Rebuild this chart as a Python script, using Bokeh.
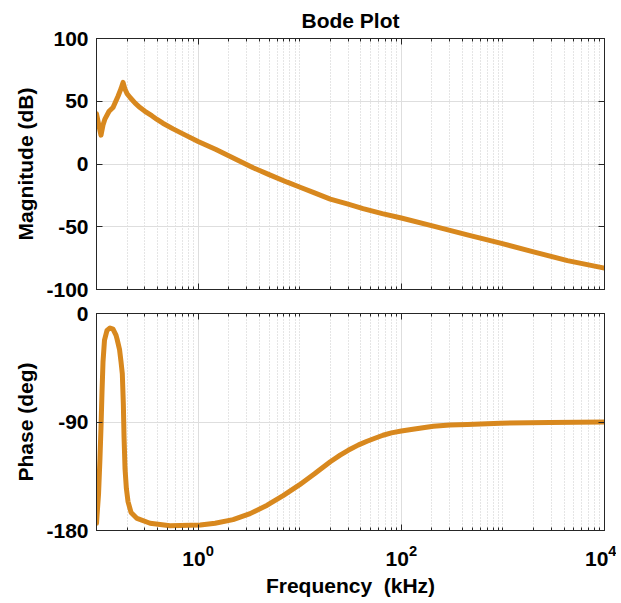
from bokeh.plotting import figure
from bokeh.layouts import column
from bokeh.models import (Range1d, FixedTicker, LogAxis, LinearAxis,
                          CustomJSTickFormatter, LogTickFormatter)
from bokeh.embed import file_html
from bokeh.resources import INLINE

# ---------------- data ----------------
mag_freq_khz = [0.100, 0.1047, 0.1107, 0.1159, 0.1213, 0.1330, 0.1454, 0.1629,
                0.1743, 0.1825, 0.19, 0.20, 0.214, 0.240, 0.268, 0.30, 0.35,
                0.394, 0.45, 0.567, 0.75, 1.0, 1.5, 2.07, 3.48, 5.0, 7.53,
                10.1, 14.0, 20.0, 30.0, 42.0, 65.0, 100.0, 207.0, 447.0,
                945.0, 2000.0, 4320.0, 10000.0]
mag_db = [40, 32, 23, 31, 36, 42, 45, 54,
          60, 65, 60, 56, 53, 48.5, 45, 42, 38.5,
          35.5, 32.5, 28, 23, 18, 11.5, 6, -3, -8.5, -14.5,
          -18.5, -23, -28, -32, -35.5, -39.5, -43, -49.5, -56.5,
          -63, -70, -77, -83]

phase_freq_khz = [0.100, 0.1011, 0.1047, 0.1082, 0.1107, 0.1133, 0.1159, 0.1199,
                  0.1269, 0.1358, 0.1454, 0.1556, 0.1592, 0.1686, 0.1743, 0.1795,
                  0.1837, 0.1866, 0.191, 0.1967, 0.2043, 0.2187, 0.2506, 0.3365,
                  0.53, 1.05, 1.47, 2.21, 3.25, 4.79, 6.87, 10.0, 14.0, 20.0,
                  25.0, 30.0, 38.0, 46.0, 55.0, 66.0, 80.0, 100.0, 130.0,
                  170.0, 207.0, 300.0, 447.0, 945.0, 2900.0, 10000.0]
phase_deg = [-174, -168, -150, -120, -95, -65, -40, -22,
             -14, -12, -13, -18, -21, -30, -40, -50,
             -75, -102, -129, -145, -156, -165, -170, -174,
             -176, -175.5, -174, -171, -166, -159, -151, -142, -133, -123,
             -117.5, -113.5, -109, -106, -103.5, -101, -99, -97.5, -96,
             -94.5, -93.5, -92.5, -92, -91, -90.5, -90]

x_major_ticks = [1, 100, 10000]
mag_ticks = [-100, -50, 0, 50, 100]
phase_ticks = [-180, -90, 0]

title_text = "Bode Plot"
mag_label = "Magnitude (dB)"
phase_label = "Phase (deg)"
freq_label = "Frequency\u00a0 (kHz)"

# ---------------- styling ----------------
FONT = "Liberation Sans"
LINE_COLOR = "#D8881E"
AXIS_COLOR = "#262626"
GRID_COLOR = "#dedede"
MINOR_GRID_COLOR = "#cacaca"

x_minor = [k * 10.0 ** d for d in range(-1, 4) for k in range(1, 10)
           if k * 10.0 ** d not in x_major_ticks]

x_range = Range1d(0.1, 10000)
x_ticker = FixedTicker(ticks=x_major_ticks, minor_ticks=x_minor)
blank = CustomJSTickFormatter(code="return ''")
plain_num = CustomJSTickFormatter(code="return tick.toFixed(0)")


def style_y(ax):
    ax.formatter = plain_num
    ax.major_tick_in = 6
    ax.major_tick_out = 0
    ax.minor_tick_line_color = None
    ax.axis_line_color = AXIS_COLOR
    ax.major_tick_line_color = AXIS_COLOR
    ax.major_label_text_font = FONT
    ax.major_label_text_font_style = "bold"
    ax.major_label_text_font_size = "21px"
    ax.major_label_text_color = "black"
    ax.major_label_standoff = 8
    ax.axis_label_text_font = FONT
    ax.axis_label_text_font_style = "bold"
    ax.axis_label_text_font_size = "21px"
    ax.axis_label_text_color = "black"
    ax.axis_label_standoff = 6


def style_x(ax):
    ax.ticker = x_ticker
    ax.major_tick_in = 6
    ax.major_tick_out = 0
    ax.minor_tick_in = 3
    ax.minor_tick_out = 0
    ax.axis_line_color = AXIS_COLOR
    ax.major_tick_line_color = AXIS_COLOR
    ax.minor_tick_line_color = AXIS_COLOR


def make_fig(frame_h, yr, yticks, ylabel, mb_top, mb_bottom):
    p = figure(x_axis_type="log", x_range=x_range, y_range=yr,
               frame_width=508, frame_height=frame_h,
               min_border_left=96, min_border_right=12,
               min_border_top=mb_top, min_border_bottom=mb_bottom,
               output_backend="svg", toolbar_location=None,
               background_fill_color="white", border_fill_color="white")
    p.outline_line_color = AXIS_COLOR
    p.outline_line_width = 1
    yt = FixedTicker(ticks=yticks)
    left = p.left[0]
    left.ticker = yt
    p.ygrid[0].ticker = yt
    p.xgrid[0].ticker = x_ticker
    style_y(left)
    left.axis_label = ylabel
    style_x(p.below[0])
    p.xgrid.grid_line_color = GRID_COLOR
    p.ygrid.grid_line_color = GRID_COLOR
    p.xgrid.minor_grid_line_color = MINOR_GRID_COLOR
    p.xgrid.minor_grid_line_dash = "1 2"
    # box: inside ticks on top and right
    top = LogAxis(ticker=x_ticker, formatter=blank, major_label_standoff=0,
                  major_label_text_font_size="1px")
    style_x(top)
    p.add_layout(top, "above")
    right = LinearAxis(ticker=yt, formatter=blank, major_label_standoff=0,
                       major_label_text_font_size="1px", major_tick_in=6,
                       major_tick_out=0, minor_tick_line_color=None,
                       axis_line_color=AXIS_COLOR, major_tick_line_color=AXIS_COLOR)
    p.add_layout(right, "right")
    return p


p1 = make_fig(251, Range1d(-100, 100), mag_ticks, mag_label, 38, 12)
b1 = p1.below[0]
b1.formatter = blank
b1.major_label_standoff = 0
b1.major_label_text_font_size = "1px"
p1.title.text = title_text
p1.title.align = "center"
p1.title.text_font = FONT
p1.title.text_font_style = "bold"
p1.title.text_font_size = "21px"
p1.title.text_color = "black"
p1.title.standoff = 13
p1.line(mag_freq_khz, mag_db, line_width=5, color=LINE_COLOR,
        line_join="round", line_cap="round")

p2 = make_fig(217, Range1d(-180, 0), phase_ticks, phase_label, 12, 70)
bx = p2.below[0]
bx.formatter = LogTickFormatter()
bx.major_label_text_font = FONT
bx.major_label_text_font_style = "bold"
bx.major_label_text_font_size = "21px"
bx.major_label_text_color = "black"
bx.major_label_standoff = 14
bx.axis_label = freq_label
bx.axis_label_text_font = FONT
bx.axis_label_text_font_style = "bold"
bx.axis_label_text_font_size = "21px"
bx.axis_label_text_color = "black"
bx.axis_label_standoff = 5
p2.line(phase_freq_khz, phase_deg, line_width=5, color=LINE_COLOR,
        line_join="round", line_cap="round")

layout = column(p1, p2, spacing=0)
open("out.html", "w").write(file_html(layout, INLINE))
